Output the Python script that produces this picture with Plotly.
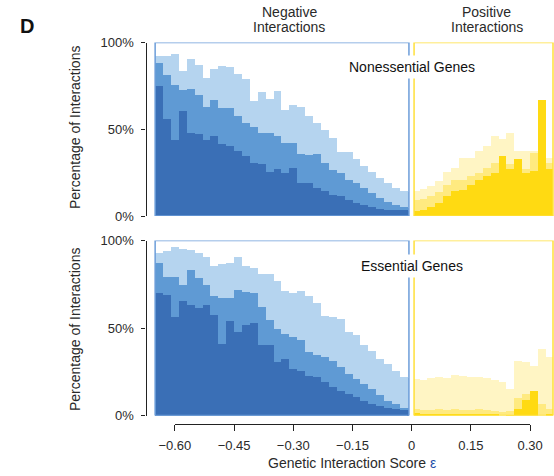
import numpy as np
import plotly.graph_objects as go

# ---------------- data (percent of interactions per bin) ----------------
neg_edges = np.round(np.arange(-0.65, 0.0101, 0.02), 3)   # 33 bins
pos_edges = np.round(np.arange(0.0, 0.3601, 0.02), 3)     # 18 bins

# Nonessential genes, negative interactions
ne_neg_light = [92.6, 92.6, 93.4, 83.7, 90.7, 87.6, 79.8, 85.3, 86.6, 85.9, 82.0, 79.5, 66.3, 71.7, 67.8, 72.1,
                61.6, 64.3, 63.0, 58.1, 53.9, 50.0, 45.5, 37.2, 37.2, 32.9, 29.1, 25.6, 22.3, 19.4, 16.5, 14.5, 14.0]
ne_neg_mid = [88.2, 81.8, 76.0, 72.7, 73.3, 70.2, 63.0, 66.9, 62.4, 62.4, 58.1, 53.9, 51.4, 48.4, 48.1, 46.5,
              42.6, 42.6, 35.9, 35.3, 35.9, 31.0, 26.7, 25.2, 21.3, 19.4, 16.5, 13.6, 10.7, 8.3, 6.8, 5.4, 5.0]
ne_neg_dark = [75.2, 56.2, 44.2, 61.0, 48.1, 47.5, 44.2, 46.5, 41.7, 40.7, 37.8, 34.9, 31.0, 30.0, 25.6, 27.1,
               25.2, 28.1, 19.4, 19.4, 16.5, 14.5, 12.6, 11.6, 9.7, 7.8, 6.8, 5.4, 4.3, 3.9, 3.5, 3.5, 3.3]

# Nonessential genes, positive interactions
ne_pos_light = [14.5, 15.9, 17.4, 20.3, 25.6, 28.1, 33.9, 33.9, 37.8, 40.7, 46.5, 44.6, 48.4, 37.8, 37.8, 37.8, 66.9, 33.9]
ne_pos_mid = [9.7, 10.1, 12.0, 14.0, 18.4, 21.3, 21.3, 23.3, 25.2, 28.1, 31.0, 34.9, 30.0, 32.9, 27.1, 36.8, 66.9, 31.0]
ne_pos_dark = [2.9, 3.9, 5.4, 7.8, 11.6, 14.5, 15.5, 18.4, 20.9, 23.3, 25.2, 34.9, 27.5, 33.3, 25.2, 26.2, 66.9, 27.1]

# Essential genes, negative interactions
e_neg_light = [93.3, 94.2, 96.5, 95.2, 94.6, 93.3, 90.8, 85.6, 86.9, 87.5, 90.8, 85.6, 84.6, 81.2, 81.2, 76.9,
               71.5, 70.2, 71.2, 68.3, 64.4, 57.3, 56.7, 55.4, 48.1, 46.5, 40.8, 36.9, 32.7, 29.8, 26.0, 22.1, 21.5]
e_neg_mid = [87.5, 79.2, 79.2, 75.0, 83.7, 78.8, 75.0, 68.3, 67.3, 67.3, 72.1, 70.8, 70.2, 62.5, 54.8, 50.0,
             47.1, 45.2, 43.3, 36.5, 34.6, 33.7, 31.2, 27.9, 24.0, 21.2, 18.3, 15.4, 11.9, 8.7, 6.7, 4.8, 4.5]
e_neg_dark = [70.2, 69.2, 56.7, 65.8, 63.5, 61.5, 63.5, 57.7, 41.3, 54.2, 48.1, 51.9, 52.9, 40.4, 40.4, 30.8,
              32.7, 26.9, 26.0, 23.1, 22.1, 19.2, 16.3, 14.4, 12.5, 10.6, 8.7, 6.7, 5.8, 4.8, 3.8, 3.5, 3.3]

# Essential genes, positive interactions
e_pos_light = [21.2, 20.8, 21.5, 22.1, 21.5, 23.5, 22.7, 22.1, 22.1, 21.5, 20.8, 19.2, 15.4, 31.7, 30.8, 28.8, 38.5, 33.7]
e_pos_mid = [3.8, 3.5, 3.5, 3.8, 3.5, 3.8, 3.5, 3.5, 3.8, 3.5, 2.9, 2.3, 2.9, 10.5, 12.5, 14.4, 6.7, 3.8]
e_pos_dark = [1.9, 1.3, 1.3, 1.3, 1.3, 1.3, 1.2, 1.2, 1.2, 1.0, 0.8, 0.0, 0.4, 4.2, 9.2, 14.4, 0.0, 0.8]

x_tick_vals = [-0.60, -0.45, -0.30, -0.15, 0.0, 0.15, 0.30]
x_tick_text = ["\u22120.60", "\u22120.45", "\u22120.30", "\u22120.15", "0", "0.15", "0.30"]
y_tick_vals = [0, 50, 100]
y_tick_text = ["0%", "50%", "100%"]

# ---------------- styling ----------------
W, H = 554, 476
BLUE = ["#b5d4ef", "#5f9ad4", "#3a6fb6"]
YELL = ["#fff5c4", "#ffea80", "#ffda12"]
BLUE_FRAME = "#6c9dd9"
YELL_FRAME = "#ffe03a"
FONT = "Liberation Sans, Arial, Helvetica, sans-serif"
TXT = "#2a2a2a"


def px(sx):
    return sx / W


def py(sy):
    return 1 - sy / H


# data x-axis mapping (px): x=0 at 411.7px, 394.7 px per unit
PX0, PXU = 411.7, 394.7
x_lo = -PX0 / PXU
x_hi = (W - PX0) / PXU

neg_frame = (-0.650, -0.007)
pos_frame = (0.006, 0.358)


def clip_bins(edges, lo, hi):
    left = np.clip(edges[:-1], lo, hi)
    right = np.clip(edges[1:], lo, hi)
    return (left + right) / 2, right - left


neg_c, neg_w = clip_bins(neg_edges, *neg_frame)
pos_c, pos_w = clip_bins(pos_edges, *pos_frame)

fig = go.Figure()


def add_bars(centers, widths, series, colors, xa, ya):
    for vals, col in zip(series, colors):
        fig.add_trace(go.Bar(x=centers, y=vals, width=widths, xaxis=xa, yaxis=ya,
                             marker=dict(color=col, line=dict(width=0)),
                             showlegend=False, hoverinfo="skip"))


add_bars(neg_c, neg_w, [ne_neg_light, ne_neg_mid, ne_neg_dark], BLUE, "x", "y")
add_bars(pos_c, pos_w, [ne_pos_light, ne_pos_mid, ne_pos_dark], YELL, "x", "y")
add_bars(neg_c, neg_w, [e_neg_light, e_neg_mid, e_neg_dark], BLUE, "x2", "y2")
add_bars(pos_c, pos_w, [e_pos_light, e_pos_mid, e_pos_dark], YELL, "x2", "y2")

# invisible trace so the tick axis subplot exists
fig.add_trace(go.Scatter(x=x_tick_vals, y=[0] * len(x_tick_vals), xaxis="x3", yaxis="y2",
                         mode="none", showlegend=False, hoverinfo="skip"))

top_dom = [py(216.0), py(42.5)]
bot_dom = [py(415.5), py(240.5)]

yax = dict(range=[0, 100], anchor="free", position=px(145.5), showline=True, linecolor="#222",
           linewidth=1.2, ticks="outside", ticklen=4, tickcolor="#222", tickwidth=1.2,
           tickvals=y_tick_vals, ticktext=y_tick_text, showgrid=False, zeroline=False,
           tickfont=dict(family=FONT, size=13, color=TXT), fixedrange=True, ticklabelstandoff=5,
           automargin=False)
xdata = dict(range=[x_lo, x_hi], domain=[0, 1], visible=False, fixedrange=True, automargin=False)

t_lo = px(PX0 + PXU * -0.60)
t_hi = px(PX0 + PXU * 0.30)

fig.update_layout(
    template="none",
    width=W, height=H, margin=dict(l=0, r=0, t=0, b=0, pad=0, autoexpand=False),
    paper_bgcolor="white", plot_bgcolor="rgba(0,0,0,0)",
    barmode="overlay", bargap=0, showlegend=False, hovermode=False,
    xaxis=dict(xdata, anchor="y"),
    xaxis2=dict(xdata, anchor="y2"),
    yaxis=dict(yax, domain=top_dom),
    yaxis2=dict(yax, domain=bot_dom),
    xaxis3=dict(range=[-0.60, 0.30], domain=[t_lo, t_hi], anchor="free", position=py(423.5),
                side="bottom", showline=True, linecolor="#222", linewidth=1.2, ticks="outside",
                ticklen=6, tickwidth=1.2, tickcolor="#222", tickvals=x_tick_vals, ticktext=x_tick_text,
                showgrid=False, zeroline=False, fixedrange=True, automargin=False, ticklabelstandoff=4,
                tickfont=dict(family=FONT, size=13, color=TXT)),
)

# panel frames
for ya in ("y", "y2"):
    xa = "x" if ya == "y" else "x2"
    fig.add_shape(type="rect", xref=xa, yref=ya, x0=neg_frame[0], x1=neg_frame[1], y0=0, y1=100,
                  line=dict(color=BLUE_FRAME, width=1.5), layer="above")
    fig.add_shape(type="rect", xref=xa, yref=ya, x0=pos_frame[0], x1=pos_frame[1], y0=0, y1=100,
                  line=dict(color=YELL_FRAME, width=1.5), layer="above")


def note(text, sx, sy, size=14, color=TXT, **kw):
    d = dict(text=text, x=px(sx), y=py(sy), xref="paper", yref="paper", showarrow=False,
             xanchor="center", yanchor="middle", font=dict(family=FONT, size=size, color=color))
    d.update(kw)
    return d


ann = [
    note("<b>D</b>", 26.5, 25.5, size=20, color="#111"),
    note("Negative", 289, 11.5),
    note("Interactions", 289, 27),
    note("Positive", 487, 11.5),
    note("Interactions", 487, 27),
    note("Nonessential Genes", 411.5, 67, color="#111", bgcolor="white", borderpad=3),
    note("Essential Genes", 411.5, 266, color="#111", bgcolor="white", borderpad=3),
    note("Percentage of Interactions", 75, 128, textangle=-90),
    note("Percentage of Interactions", 75, 330, textangle=-90),
    note("Genetic Interaction Score <span style='color:#1f4fa8'>\u03b5</span>", 352, 463),
]
fig.update_layout(annotations=ann)

# remove the default page margin so the figure fills the window exactly
fig.write_html("out.html", config={"displayModeBar": False},
               post_script="document.body.style.margin='0px';")
